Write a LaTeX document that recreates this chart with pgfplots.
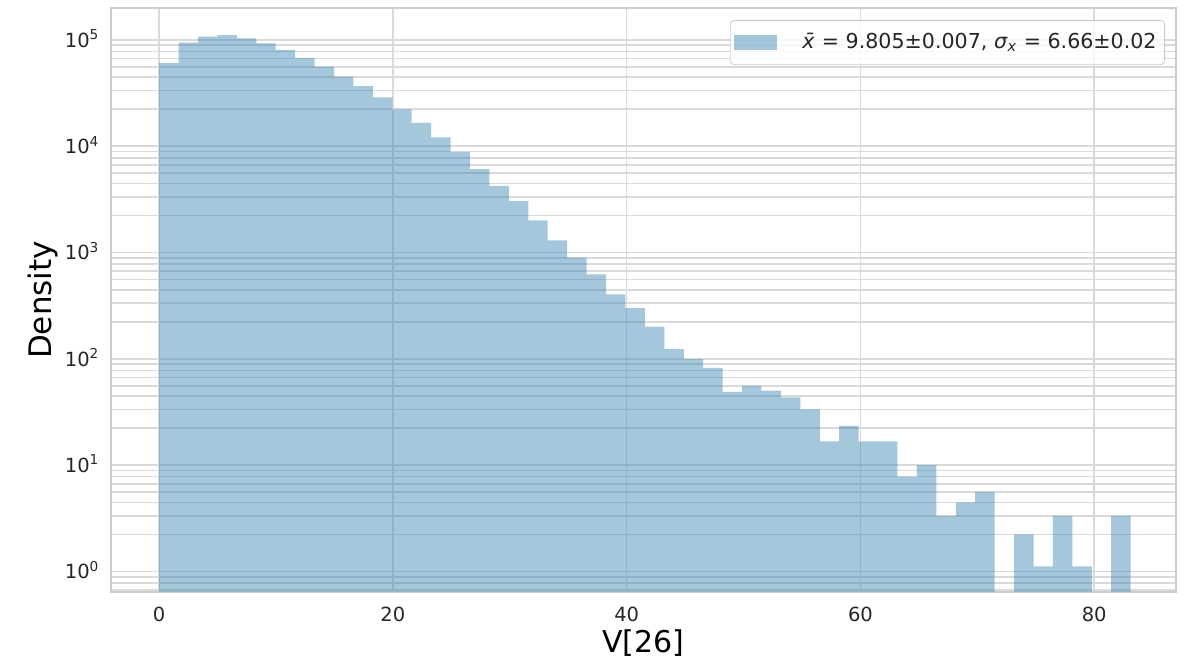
\documentclass[border=0pt]{standalone}
\usepackage{pgfplots}
\pgfplotsset{compat=1.18}
\usepackage{pgfplotstable}
\usepackage{fontspec}
\setmainfont{DejaVu Sans}

\definecolor{barblue}{RGB}{53,130,177}
\definecolor{gridgray}{RGB}{218,218,218}
\definecolor{framegray}{RGB}{204,204,204}
\definecolor{labelgray}{RGB}{38,38,38}

% histogram of V[26]: 50 bins of width 1.6624 on [0, 83.12]; x = bin centre
\pgfplotstableread{
x        y
0.8312   54200
2.4936   84700
4.1560   96400
5.8184   99400
7.4808   93100
9.1432   83500
10.8056  72300
12.4680  60800
14.1304  50300
15.7928  40500
17.4552  33100
19.1176  25900
20.7800  20000
22.4424  14900
24.1048  10900
25.7672  7960
27.4296  5470
29.0920  3800
30.7544  2740
32.4168  1800
34.0792  1170
35.7416  804
37.4040  558
39.0664  362
40.7288  269
42.3912  180
44.0536  111
45.7160  89
47.3784  74
49.0408  44
50.7032  50
52.3656  45
54.0280  39
55.6904  30
57.3528  15
59.0152  21
60.6776  15
62.3400  15
64.0024  7
65.6648  9
67.3272  3
68.9896  4
70.6520  5
73.9768  2
75.6392  1
77.3016  3
78.9640  1
82.2888  3
}\histdata

\begin{document}
\begin{tikzpicture}
\begin{axis}[
  at={(0pt,0pt)}, anchor=south west,
  scale only axis, width=532.75pt, height=291.7pt,
  ymode=log, log origin=infty,
  xmin=-4.16, xmax=87.0, ymin=0.579, ymax=178200,
  xtick={0,20,40,60,80}, xticklabels={0,20,40,60,80},
  ytick={1,10,100,1000,10000,100000},
  yticklabels={10\textsuperscript{0},10\textsuperscript{1},10\textsuperscript{2},10\textsuperscript{3},10\textsuperscript{4},10\textsuperscript{5}},
  minor ytick={0.6,0.7,0.8,0.9,2,3,4,5,6,7,8,9,20,30,40,50,60,70,80,90,200,300,400,500,600,700,800,900,2000,3000,4000,5000,6000,7000,8000,9000,20000,30000,40000,50000,60000,70000,80000,90000},
  xmajorgrids=true, ymajorgrids=false, yminorgrids=true,
  major grid style={draw=gridgray, line width=0.8pt},
  minor grid style={draw=gridgray, line width=0.8pt},
  major tick length=0pt, minor tick length=0pt,
  axis line style={draw=framegray, line width=1pt},
  tick label style={font=\fontsize{9.75}{11}\selectfont, text=labelgray},
  xticklabel style={yshift=-4pt},
  yticklabel style={xshift=-2pt, yshift=-1.8pt},
  legend style={at={(1,1)}, anchor=north east, xshift=-5.5pt, yshift=-5.85pt,
    draw=framegray, fill=white, fill opacity=0.8, text opacity=1,
    rounded corners=2pt, inner ysep=4.5pt, inner xsep=2pt,
    font=\fontsize{10.3}{12}\selectfont, text=labelgray,
    /tikz/every odd column/.append style={column sep=10.5pt}},
  legend cell align=left,
]
\addplot[ybar, bar width=1.6624, bar shift=0pt, draw=none,
  fill=barblue, fill opacity=0.45,
  legend image code/.code={\fill[barblue, fill opacity=0.45, sharp corners] (0pt,-3.75pt) rectangle (21.5pt,3.75pt);}]
  table[x=x, y=y] {\histdata};
\addlegendentry{\textit{x̄} = 9.805±0.007, \textit{σ}\textsubscript{\textit{x}} = 6.66±0.02}
\end{axis}
\node[rotate=90, anchor=base, font=\fontsize{15.5}{18}\selectfont, text=black] at (-29.5pt,145.85pt) {Density};
\node[anchor=base, font=\fontsize{15}{18}\selectfont, text=black] at (266.4pt,-30.4pt) {V[26]};
\pgfresetboundingbox
\useasboundingbox (-55.25pt,-33.15pt) rectangle (536.25pt,295.85pt);
\end{tikzpicture}
\end{document}
